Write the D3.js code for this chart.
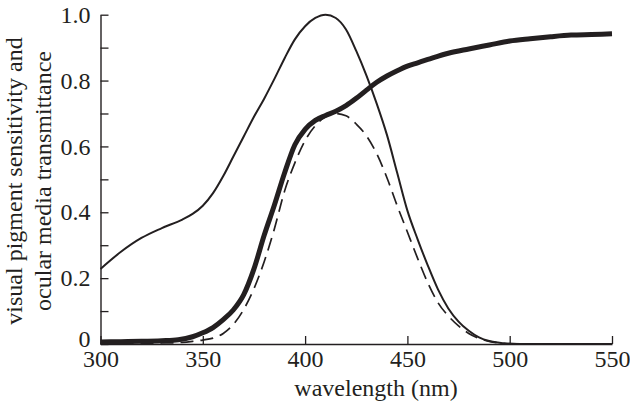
<!DOCTYPE html>
<html>
<head>
<meta charset="utf-8">
<script src="https://cdn.jsdelivr.net/npm/d3@7"></script>
<style>
  html, body { margin: 0; padding: 0; background: #fff; }
  svg { display: block; }
  svg text { font-family: "Liberation Serif", Tinos, "Times New Roman", Times, serif; fill: #231f20; }
</style>
</head>
<body>
<svg id="chart" width="630" height="403"></svg>
<script>
// Visual pigment sensitivity (thin line)
const pigmentWl  = [300, 310, 320, 330, 340, 345, 350, 355, 360, 365, 370, 375, 380, 385, 390, 395, 400, 405, 410, 415, 420, 425, 430, 435, 440, 445, 450, 455, 460, 465, 470, 475, 480, 485, 490, 495, 500, 510, 550];
const pigmentVal = [0.228, 0.28, 0.322, 0.352, 0.378, 0.395, 0.42, 0.458, 0.51, 0.57, 0.63, 0.69, 0.745, 0.805, 0.868, 0.925, 0.965, 0.99, 1.0, 0.99, 0.955, 0.89, 0.815, 0.73, 0.635, 0.52, 0.405, 0.318, 0.238, 0.165, 0.108, 0.068, 0.04, 0.02, 0.009, 0.004, 0.001, 0, 0];

// Ocular media transmittance (thick line)
const transWl  = [300, 310, 320, 330, 338, 345, 350, 355, 360, 365, 370, 375, 380, 385, 390, 395, 400, 405, 410, 415, 420, 425, 430, 435, 440, 445, 450, 455, 460, 470, 480, 490, 500, 510, 520, 530, 540, 550];
const transVal = [0.006, 0.007, 0.008, 0.01, 0.013, 0.022, 0.034, 0.05, 0.074, 0.104, 0.15, 0.228, 0.33, 0.422, 0.52, 0.605, 0.652, 0.679, 0.694, 0.707, 0.724, 0.746, 0.771, 0.795, 0.814, 0.83, 0.844, 0.854, 0.864, 0.883, 0.896, 0.908, 0.92, 0.927, 0.933, 0.938, 0.94, 0.942];

// Effective sensitivity (dashed line)
const effWl  = [300, 330, 340, 345, 350, 355, 360, 365, 370, 375, 380, 385, 390, 395, 400, 405, 410, 415, 420, 425, 430, 435, 440, 445, 450, 455, 460, 465, 470, 475, 480, 485, 490, 495, 500, 510, 550];
const effVal = [0.002, 0.003, 0.005, 0.008, 0.012, 0.018, 0.032, 0.06, 0.105, 0.168, 0.25, 0.35, 0.465, 0.55, 0.618, 0.663, 0.69, 0.70, 0.693, 0.668, 0.632, 0.578, 0.505, 0.42, 0.34, 0.26, 0.185, 0.125, 0.085, 0.055, 0.032, 0.017, 0.008, 0.003, 0.001, 0, 0];

const xTicks = [300, 350, 400, 450, 500, 550];
const yMajorTicks = [0, 0.2, 0.4, 0.6, 0.8, 1.0];
const yMinorTicks = [0.1, 0.3, 0.5, 0.7, 0.9];

const xLabel = "wavelength (nm)";
const yLabelLines = ["visual pigment sensitivity and", "ocular media transmittance"];

const ink = "#231f20";
const serif = '"Liberation Serif", Tinos, "Times New Roman", Times, serif';
const svg = d3.select("#chart");

const x = d3.scaleLinear().domain([300, 550]).range([100.5, 612]);
const y = d3.scaleLinear().domain([0, 1]).range([344, 14.7]);

// axes
const xAxis = d3.axisBottom(x).tickValues(xTicks).tickSize(-8).tickPadding(6).tickSizeOuter(0).tickFormat(d3.format("d"));
const gx = svg.append("g").attr("transform", `translate(0,${y(0)})`).call(xAxis);

const yAxis = d3.axisLeft(y).tickValues(yMajorTicks).tickSize(-8).tickPadding(10).tickSizeOuter(0)
  .tickFormat(d => d === 0 ? "0" : d3.format(".1f")(d));
const gy = svg.append("g").attr("transform", `translate(${x(300)},0)`).call(yAxis);
const gyMinor = svg.append("g").attr("transform", `translate(${x(300)},0)`)
  .call(d3.axisLeft(y).tickValues(yMinorTicks).tickSize(-8).tickSizeOuter(0).tickFormat(""));
gyMinor.select(".domain").remove();

[gx, gy, gyMinor].forEach(g => {
  g.attr("font-family", serif).attr("font-size", 24);
  g.selectAll("path.domain").attr("stroke", ink).attr("stroke-width", 1.4);
  g.selectAll(".tick line").attr("stroke", ink).attr("stroke-width", 1.3);
  g.selectAll(".tick text").attr("fill", ink);
});
// lift the "0" label slightly so it sits clear of the x tick labels
gy.selectAll(".tick text").filter(d => d === 0).attr("dy", "0.12em");

// lines
const line = d3.line().x(d => x(d[0])).y(d => y(d[1])).curve(d3.curveMonotoneX);

svg.append("path")
  .datum(pigmentWl.map((w, i) => [w, pigmentVal[i]]))
  .attr("fill", "none").attr("stroke", ink).attr("stroke-width", 2)
  .attr("d", line);

svg.append("path")
  .datum(effWl.map((w, i) => [w, effVal[i]]))
  .attr("fill", "none").attr("stroke", ink).attr("stroke-width", 1.7)
  .attr("stroke-dasharray", "13,7")
  .attr("d", line);

svg.append("path")
  .datum(transWl.map((w, i) => [w, transVal[i]]))
  .attr("fill", "none").attr("stroke", ink).attr("stroke-width", 5)
  .attr("stroke-linecap", "butt")
  .attr("d", line);

// axis titles
svg.append("text")
  .attr("x", 376).attr("y", 396)
  .attr("text-anchor", "middle").attr("font-size", 24)
  .text(xLabel);

const yl = svg.append("g").attr("transform", "translate(0,181) rotate(-90)");
yl.selectAll("text").data(yLabelLines).enter().append("text")
  .attr("x", 0).attr("y", (d, i) => i === 0 ? 22 : 51)
  .attr("text-anchor", "middle").attr("font-size", 24)
  .text(d => d);
</script>
</body>
</html>
